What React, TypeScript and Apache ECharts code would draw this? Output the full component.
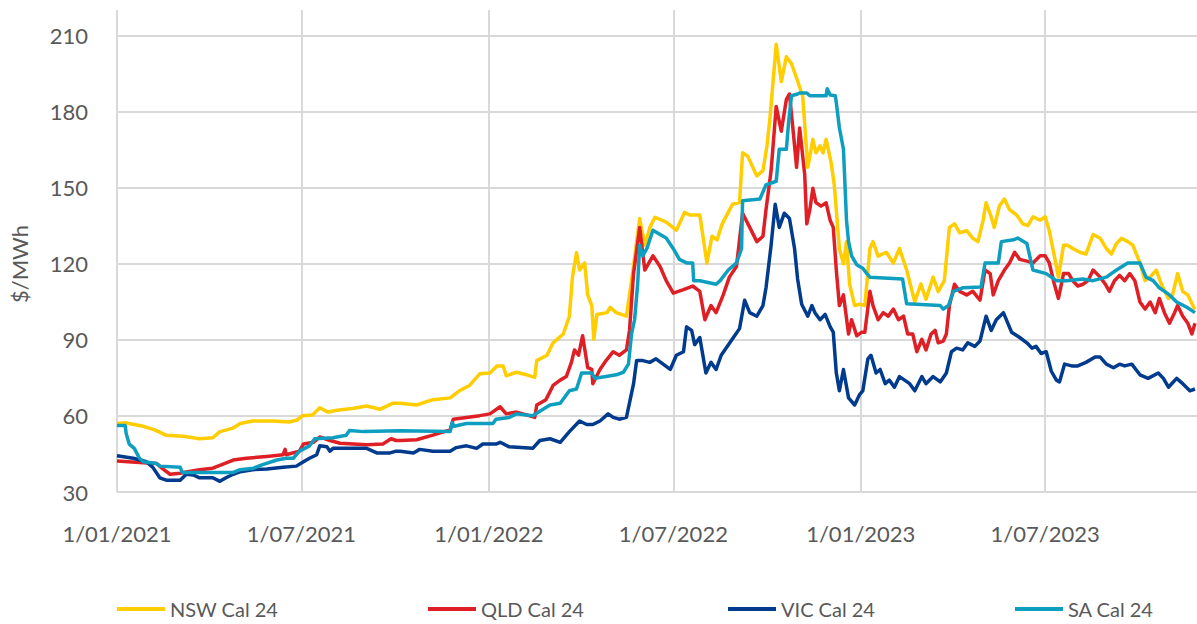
import React, { useEffect, useRef } from "react";
import * as echarts from "echarts";

// x = days since 1 Jan 2021, y = $/MWh
const nswCal24: [number, number][] = [
  [0,57],[8,57.3],[26,55.9],[37,54.5],[48,52.4],[65,52],[81,51],[94,51.4],[101,53.8],[114,55.2],[121,57],[133,58],[153,58],[169,57.6],[177,58.4],[182,60.1],[192,60.4],[199,63.2],[207,61.5],[216,62.2],[231,62.9],[245,63.9],[258,62.6],[271,65],[278,65],[294,64.3],[310,66.4],[327,67.1],[336,69.9],[346,72],[356,76.6],[366,76.9],[373,79.7],[379,79.7],[382,75.8],[392,77.2],[402,76.2],[410,75.2],[412,81.8],[422,83.9],[428,88.8],[438,92.3],[444,99.3],[447,114.7],[451,124.3],[454,117.5],[459,120.3],[462,107.7],[466,103.5],[468,90.2],[471,100],[481,100.7],[484,102.8],[490,100.7],[500,99.3],[506,116.1],[513,137.8],[518,127.3],[523,134.3],[528,138.3],[539,136.4],[549,133.2],[557,140.2],[562,139.2],[572,139.2],[579,120.3],[584,130.8],[589,129.4],[594,135.7],[604,143.4],[611,144.1],[614,163.7],[619,162.4],[628,154.6],[634,156.7],[638,166.6],[641,177.8],[647,206.5],[652,191.8],[657,201.6],[662,198.8],[668,192],[673,186],[678,158],[683,169],[686,163.7],[690,166.5],[693,163.7],[696,169],[701,159.6],[704,151],[709,126],[713,120],[716,128.7],[719,112],[724,103.5],[729,104],[734,103.5],[739,126],[742,128.7],[747,123],[755,124.5],[762,120.3],[768,126],[775,117.5],[783,105],[789,112],[794,106],[801,114.7],[806,109],[812,113.3],[817,134.3],[822,135.7],[827,132.2],[834,133],[840,130],[845,128.7],[850,137],[853,144],[858,138.5],[861,134.3],[866,142.7],[871,145.5],[876,141.3],[883,139.2],[889,135.7],[894,135],[899,138.5],[906,137.1],[911,138.5],[915,133],[920,123],[924,114.7],[929,127.3],[933,127.3],[938,126],[945,124.5],[951,123.8],[958,131.5],[965,130],[971,126],[976,123.8],[981,128],[986,130],[992,128.7],[997,127.3],[1004,120.3],[1009,113.3],[1014,114.7],[1020,117.5],[1025,112],[1032,106.3],[1036,107.7],[1041,116.1],[1046,109],[1051,107.7],[1056,103.5],[1058,102]
];

const qldCal24: [number, number][] = [
  [0,42.2],[22,41.6],[39,41.2],[45,39.1],[52,37],[62,37.4],[68,37.9],[81,38.8],[94,39.4],[101,40.5],[114,42.6],[127,43.3],[147,44],[163,44.7],[165,46.8],[166,44.7],[179,46.1],[183,48.9],[193,49.6],[199,51.7],[209,50.3],[219,49.2],[232,48.9],[245,48.6],[261,48.9],[269,51],[274,50.3],[278,50.3],[294,50.6],[310,52.4],[327,54.5],[330,58.7],[343,59.4],[356,60.1],[366,60.8],[376,63.6],[382,60.8],[392,61.5],[402,60.4],[410,59.4],[412,64.3],[421,66.4],[428,72],[435,74.1],[441,75.5],[446,81.1],[449,86],[453,83.9],[457,91.6],[462,79],[466,78.3],[467,72.7],[474,78.3],[480,81.8],[487,85.3],[493,83.9],[500,86],[503,93.7],[507,116.1],[513,134.3],[518,117.5],[526,123.1],[533,118.9],[539,113.3],[546,108.4],[556,109.8],[565,111.2],[572,109.1],[577,97.9],[583,103.5],[588,100.7],[595,107.7],[601,114.7],[608,118.9],[614,139.9],[621,134.3],[628,128.7],[634,130.8],[637,141.3],[642,156.7],[647,182],[652,172.2],[657,184.8],[660,186.9],[664,170.8],[667,158],[670,173.5],[675,155],[677,135.7],[680,141.3],[683,149.7],[686,144.1],[691,142.7],[696,144],[700,137],[703,134.3],[706,117.5],[709,103.5],[713,107.7],[718,92.3],[721,97.9],[726,91.6],[731,93],[734,93],[739,109.1],[742,103.5],[747,97.9],[752,100.7],[757,99.3],[762,102.1],[767,97.9],[772,99.3],[776,92.3],[781,92.3],[785,85.3],[790,90.2],[794,86],[799,92.3],[803,93.7],[806,88.8],[811,89.5],[814,92.3],[817,103.5],[822,111.9],[827,109.1],[834,107.7],[840,109.1],[847,105.6],[852,117.5],[857,116.1],[860,107.7],[865,113.3],[871,117.5],[876,120.3],[881,124.5],[886,121.7],[893,121],[899,120.3],[906,123.1],[911,123.1],[915,120.3],[920,111.9],[924,106.3],[929,116.1],[934,116.1],[938,113.3],[943,111.2],[948,111.9],[953,113.3],[958,117.5],[965,114.7],[970,111.9],[974,109.1],[979,113.3],[984,115.4],[989,113.3],[994,116.1],[999,113.3],[1004,104.9],[1009,102.1],[1014,104.9],[1019,100.7],[1023,106.3],[1028,100.7],[1033,96.5],[1038,100.7],[1041,103.5],[1046,99.3],[1051,96.5],[1055,92.3],[1058,96.5]
];

const vicCal24: [number, number][] = [
  [0,44.3],[16,43.3],[29,41.9],[35,39.8],[42,35.6],[49,34.6],[62,34.6],[68,37],[75,36.7],[81,35.6],[94,35.6],[101,34.2],[107,35.6],[114,37],[121,38],[133,38.8],[147,39.1],[163,39.8],[176,40.2],[183,41.9],[189,43.3],[196,44.7],[199,48.2],[206,47.8],[209,46.1],[212,47.2],[228,47.2],[245,47.2],[255,45.4],[268,45.4],[274,46.1],[278,46.1],[291,45.4],[297,46.8],[310,46.1],[327,46.1],[333,47.5],[343,48.2],[353,47.2],[359,48.9],[372,48.9],[376,49.6],[385,47.8],[408,47.2],[415,50.3],[425,51],[435,49.6],[444,53.8],[454,58],[461,56.6],[467,56.6],[474,58],[482,60.8],[487,59.4],[493,58.7],[500,59.4],[507,72.7],[510,81.8],[516,81.8],[523,81.1],[529,82.5],[536,80.4],[543,78.3],[549,83.9],[556,85.3],[559,95.1],[564,93.7],[567,88.1],[572,90.9],[578,76.9],[583,81.1],[588,78.3],[593,83.9],[605,90.9],[611,94.4],[616,105.6],[621,100.7],[628,99.3],[634,103.5],[637,110.5],[642,127.3],[646,143.4],[650,134.3],[655,139.9],[660,137.8],[665,126],[668,114],[672,104],[678,99.3],[682,103.5],[685,100.7],[690,97.9],[695,100],[700,95.1],[703,93],[706,76.9],[709,69.9],[713,78.3],[718,67.1],[724,64.3],[729,68.5],[732,69.9],[737,82.5],[740,83.9],[745,76.9],[749,78.3],[754,72.7],[758,74.1],[763,71.3],[768,75.5],[773,74.1],[778,72.7],[783,69.9],[790,75.5],[794,72.7],[801,75.5],[808,73.4],[814,76.9],[819,85.3],[824,86.7],[830,86],[835,88.8],[842,87.4],[847,89.5],[853,99.3],[858,93.7],[863,97.9],[870,100.7],[878,93],[886,90.9],[893,88.8],[898,86.7],[902,87.4],[907,84.6],[912,85.3],[917,77.6],[922,74.1],[925,73.4],[930,80.4],[937,79.7],[943,79.7],[951,81.1],[960,83.2],[965,83.2],[971,80.4],[978,79],[984,80.4],[989,79.7],[996,80.4],[1004,76.2],[1012,74.8],[1022,76.9],[1027,74.8],[1032,71.3],[1040,74.8],[1046,72.7],[1053,69.9],[1058,70.6]
];

const saCal24: [number, number][] = [
  [0,56.2],[8,56.2],[9,53.1],[12,48.9],[17,47.2],[22,43.3],[26,41.9],[39,41.2],[42,40.2],[62,39.8],[64,37.7],[114,37.7],[121,38.8],[134,39.4],[143,40.8],[157,42.6],[166,43.3],[173,43.3],[179,46.1],[189,48.2],[194,51],[212,51.4],[225,52.4],[228,54.2],[242,53.8],[278,54.1],[327,53.8],[329,57.3],[331,55.9],[343,57],[369,57],[372,58.7],[385,59.4],[392,60.8],[408,60.1],[415,61.8],[425,64.3],[435,65],[444,69.9],[451,70.6],[456,76.9],[466,76.9],[469,74.8],[480,75.5],[490,76.2],[497,77.2],[502,80.4],[505,92.3],[508,97.9],[511,111.9],[513,127.3],[516,123.1],[520,125.9],[526,133.2],[533,131.5],[539,130.1],[546,125.9],[552,121.7],[559,120.3],[565,120.3],[566,113.3],[572,113.3],[588,111.9],[592,113.3],[600,117.5],[608,120.3],[613,125.9],[614,144.8],[631,145.5],[637,151.1],[647,152.5],[650,165.1],[657,165.1],[659,175],[662,186.2],[668,186.9],[670,187.3],[677,187.3],[680,186.2],[696,186.2],[697,189],[700,186.5],[705,186.2],[706,183.4],[709,173.6],[713,165.1],[716,137.1],[718,128.7],[721,123.1],[726,119.6],[732,118.2],[736,116.1],[739,114.7],[771,114],[775,104.2],[808,103.5],[811,102.1],[816,103.5],[821,109.1],[830,110.5],[848,110.8],[852,120.3],[865,120.3],[868,128.7],[880,129.4],[884,130.1],[893,128],[899,117.5],[912,116.1],[922,113.3],[932,113.3],[948,114],[958,113.3],[971,114.7],[981,117.5],[992,120.3],[1004,120.3],[1010,114.7],[1017,113.3],[1023,110.5],[1033,107.7],[1040,104.9],[1050,102.8],[1058,100.7]
];

const seriesNames = ["NSW Cal 24", "QLD Cal 24", "VIC Cal 24", "SA Cal 24"];
const seriesColors = ["#FFCD00", "#DF1F26", "#003B8E", "#0E9FC0"];
const seriesData = [nswCal24, qldCal24, vicCal24, saCal24];

const xTickDates = ["2021-01-01", "2021-07-01", "2022-01-01", "2022-07-01", "2023-01-01", "2023-07-01"];
const xTickLabels = ["1/01/2021", "1/07/2021", "1/01/2022", "1/07/2022", "1/01/2023", "1/07/2023"];
const yTicks = [30, 60, 90, 120, 150, 180, 210];

const START = Date.UTC(2021, 0, 1);
const DAY = 86400000;
const X_MAX_DAY = 1060;

export default function App() {
  const ref = useRef<HTMLDivElement>(null);
  useEffect(() => {
    if (!ref.current) return;
    const chart = echarts.init(ref.current, undefined, { renderer: "svg" });
    const font = "Lato";
    const grey = "#595959";
    const gridColor = "#D9D9D9";
    const toTime = (d: number) => START + d * DAY;
    const dateToTime = (s: string) => {
      const [y, m, d] = s.split("-").map(Number);
      return Date.UTC(y, m - 1, d);
    };

    const markData: any[] = [
      ...yTicks.map((v) => ({ yAxis: v, label: { show: false } })),
      ...xTickDates.map((s, i) => ({
        xAxis: dateToTime(s),
        label: {
          show: true,
          position: "start",
          formatter: xTickLabels[i],
          distance: 30,
          fontFamily: font,
          fontSize: 22,
          color: grey,
        },
      })),
    ];

    const series: any[] = seriesData.map((data, i) => ({
      name: seriesNames[i],
      type: "line",
      data: data.map(([d, v]) => [toTime(d), v]),
      showSymbol: false,
      symbol: "none",
      z: 3,
      lineStyle: { color: seriesColors[i], width: 3.5, join: "round" },
      itemStyle: { color: seriesColors[i] },
      emphasis: { disabled: true },
      ...(i === 0
        ? {
            markLine: {
              silent: true,
              symbol: "none",
              z: 1,
              animation: false,
              lineStyle: { color: gridColor, width: 2, type: "solid" },
              label: { show: false },
              emphasis: { disabled: true },
              data: markData,
            },
          }
        : {}),
    }));

    const legendLefts = [112, 423, 723, 1010];
    chart.setOption({
      animation: false,
      grid: { left: 117, right: 0, top: 10, bottom: 132, containLabel: false },
      xAxis: {
        type: "time",
        min: toTime(0),
        max: toTime(X_MAX_DAY),
        axisLine: { show: false },
        axisTick: { show: false },
        axisLabel: { show: false },
        splitLine: { show: false },
      },
      yAxis: {
        type: "value",
        min: 30,
        max: 220,
        interval: 30,
        axisLine: { show: false },
        axisTick: { show: false },
        splitLine: { show: false },
        axisLabel: {
          margin: 29,
          fontFamily: font,
          fontSize: 22,
          color: grey,
          formatter: (v: number) => (yTicks.indexOf(v) >= 0 ? String(v) : ""),
        },
      },
      legend: seriesNames.map((n, i) => ({
        data: [n],
        left: legendLefts[i],
        top: 594,
        icon: "rect",
        itemWidth: 48,
        itemHeight: 4,
        itemGap: 0,
        selectedMode: false,
        textStyle: { fontFamily: font, fontSize: 20, color: grey },
      })),
      graphic: [
        {
          type: "text",
          x: 19,
          y: 264,
          rotation: Math.PI / 2,
          style: {
            text: "$/MWh",
            fontFamily: font,
            fontSize: 22,
            fill: grey,
            textAlign: "center",
            textVerticalAlign: "middle",
          },
        },
      ],
      series,
    });
    return () => chart.dispose();
  }, []);
  return (
    <div
      ref={ref}
      style={{ position: "fixed", left: 0, top: 0, width: 1197, height: 624, background: "#fff" }}
    />
  );
}
